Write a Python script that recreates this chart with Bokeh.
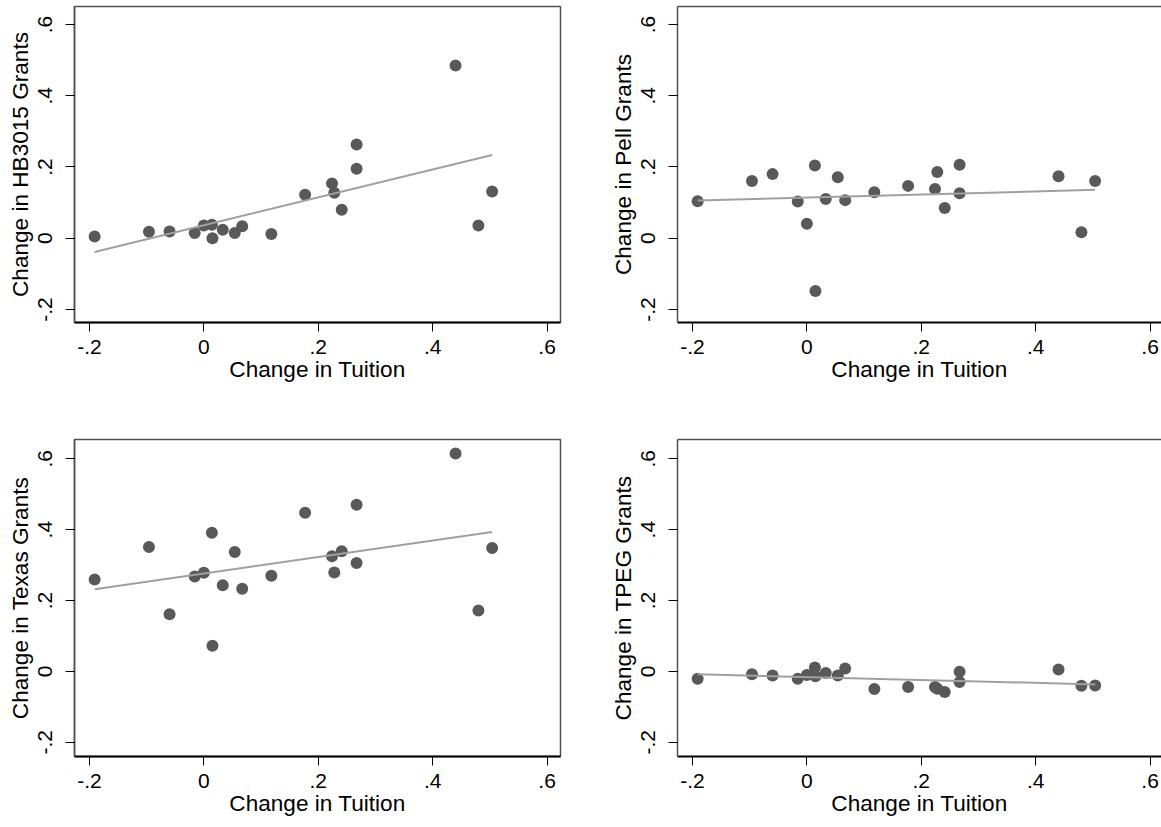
import numpy as np
from bokeh.plotting import figure
from bokeh.layouts import column, row
from bokeh.models import FixedTicker, LinearAxis, Range1d
from bokeh.embed import file_html
from bokeh.resources import INLINE

# ---- data ----
tuition = [-0.191, -0.096, -0.060, -0.016, 0.000, 0.014, 0.015, 0.033, 0.054, 0.067,
           0.118, 0.177, 0.224, 0.228, 0.241, 0.267, 0.267, 0.440, 0.480, 0.504]
hb3015 = [0.005, 0.018, 0.019, 0.015, 0.036, 0.038, 0.000, 0.024, 0.015, 0.034,
          0.012, 0.122, 0.154, 0.128, 0.080, 0.263, 0.195, 0.485, 0.036, 0.131]
pell = [0.104, 0.161, 0.180, 0.103, 0.041, 0.204, -0.148, 0.110, 0.171, 0.107,
        0.129, 0.147, 0.138, 0.186, 0.085, 0.206, 0.126, 0.174, 0.017, 0.161]
texas = [0.259, 0.351, 0.161, 0.268, 0.278, 0.391, 0.072, 0.243, 0.337, 0.233,
         0.270, 0.448, 0.325, 0.279, 0.339, 0.470, 0.306, 0.615, 0.172, 0.348]
tpeg = [-0.021, -0.008, -0.012, -0.021, -0.010, 0.011, -0.014, -0.005, -0.012, 0.008,
        -0.050, -0.044, -0.044, -0.049, -0.058, -0.001, -0.030, 0.005, -0.041, -0.040]

x_ticks = [-0.2, 0, 0.2, 0.4, 0.6]
x_tick_labels = ["-.2", "0", ".2", ".4", ".6"]
y_ticks = [-0.2, 0, 0.2, 0.4, 0.6]
y_tick_labels = ["-.2", "0", ".2", ".4", ".6"]
x_title = "Change in Tuition"
y_titles = ["Change in HB3015 Grants", "Change in Pell Grants",
            "Change in Texas Grants", "Change in TPEG Grants"]

FONT = "Liberation Sans"
FRAME = "#505050"
DOT = "#595959"
FIT = "#a0a0a0"


def make_panel(yvals, ytitle, is_left, is_top):
    if is_left:
        width, mb_l, mb_r, x_end = 600, 74, 40, 0.6235
    else:
        width, mb_l, mb_r, x_end = 561, 77, 0, 0.6200
    if is_top:
        height, mb_t, mb_b, y0, y1 = 420, 6, 98, -0.2365, 0.6505
    else:
        height, mb_t, mb_b, y0, y1 = 400, 19, 64, -0.2404, 0.6545

    p = figure(width=width, height=height, output_backend="svg", toolbar_location=None,
               x_range=Range1d(-0.2262, x_end), y_range=Range1d(y0, y1),
               min_border_left=mb_l, min_border_right=mb_r,
               min_border_top=mb_t, min_border_bottom=mb_b)
    p.grid.grid_line_color = None
    p.background_fill_color = "white"
    p.border_fill_color = "white"

    # x axis
    xa = p.below[0]
    xa.ticker = FixedTicker(ticks=x_ticks)
    xa.major_label_overrides = dict(zip(x_ticks, x_tick_labels))
    xa.axis_label = x_title
    xa.axis_line_color = "black"
    xa.axis_line_width = 2
    xa.major_tick_in = 0
    xa.major_tick_out = 9
    xa.major_tick_line_color = "black"
    xa.minor_tick_line_color = None
    xa.major_label_text_font = FONT
    xa.major_label_text_font_size = "21px"
    xa.major_label_text_color = "black"
    xa.major_label_standoff = 8
    xa.axis_label_text_font = FONT
    xa.axis_label_text_font_size = "22.6px"
    xa.axis_label_text_font_style = "normal"
    xa.axis_label_text_color = "black"
    xa.axis_label_standoff = 0

    # y axis
    ya = p.left[0]
    ya.ticker = FixedTicker(ticks=y_ticks)
    ya.major_label_overrides = dict(zip(y_ticks, y_tick_labels))
    ya.major_label_orientation = "vertical"
    ya.axis_label = ytitle
    ya.axis_line_color = FRAME
    ya.axis_line_width = 1.5
    ya.major_tick_in = 0
    ya.major_tick_out = 9
    ya.major_tick_line_color = "black"
    ya.minor_tick_line_color = None
    ya.major_label_text_font = FONT
    ya.major_label_text_font_size = "21px"
    ya.major_label_text_color = "black"
    ya.major_label_standoff = 13
    ya.axis_label_text_font = FONT
    ya.axis_label_text_font_size = "22.6px"
    ya.axis_label_text_font_style = "normal"
    ya.axis_label_text_color = "black"
    ya.axis_label_standoff = 3

    if is_left:
        p.outline_line_color = FRAME
        p.outline_line_width = 1.5
    else:
        # right-hand panels run off the page edge: draw only the top frame line
        p.outline_line_color = None
        top_ax = LinearAxis(ticker=FixedTicker(ticks=[]), axis_line_color=FRAME,
                            axis_line_width=1.5, major_tick_line_color=None,
                            minor_tick_line_color=None, major_label_text_font_size="0px",
                            major_label_standoff=0, major_tick_out=0, major_tick_in=0)
        p.add_layout(top_ax, "above")

    p.scatter(tuition, yvals, size=12, fill_color=DOT, line_color=None)

    slope, intercept = np.polyfit(np.array(tuition), np.array(yvals), 1)
    xs = [min(tuition), max(tuition)]
    p.line(xs, [slope * v + intercept for v in xs], line_color=FIT, line_width=2)
    return p


p1 = make_panel(hb3015, y_titles[0], True, True)
p2 = make_panel(pell, y_titles[1], False, True)
p3 = make_panel(texas, y_titles[2], True, False)
p4 = make_panel(tpeg, y_titles[3], False, False)

layout = column(row(p1, p2), row(p3, p4))

open("out.html", "w").write(file_html(layout, INLINE))
